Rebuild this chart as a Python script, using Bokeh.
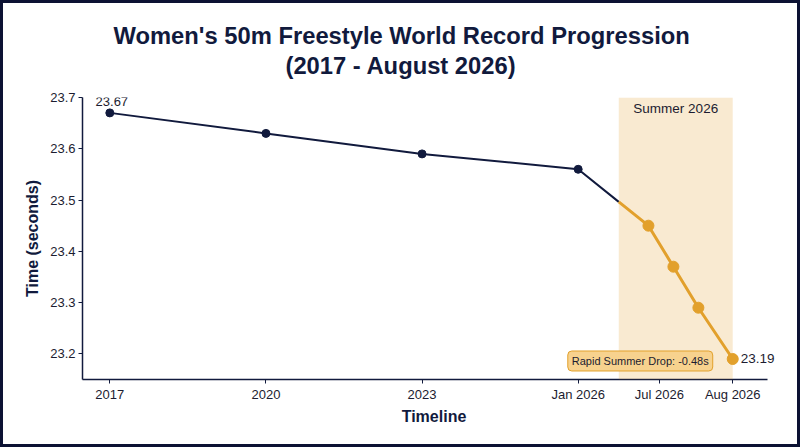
from bokeh.plotting import figure
from bokeh.models import ColumnDataSource, BoxAnnotation, Label, FixedTicker, Range1d, NumeralTickFormatter, Title
from bokeh.embed import file_html
from bokeh.resources import INLINE
import numpy as np

# timeline position (2017 = 0, 2020 = 1, 2023 = 2, Jan 2026 = 3, Aug 2026 ~ 4)
timeline = [0, 1, 2, 3, 3.45, 3.61, 3.77, 3.99]
record = [23.67, 23.63, 23.59, 23.56, 23.45, 23.37, 23.29, 23.19]

tick_pos = [0, 1, 2, 3, 3.52, 3.99]
tick_labels = ["2017", "2020", "2023", "Jan 2026", "Jul 2026", "Aug 2026"]
y_ticks = [23.2, 23.3, 23.4, 23.5, 23.6, 23.7]

summer_start = 3.26
summer_end = 3.99

NAVY = "#111a3d"
ORANGE = "#e2a12c"
TEXT = "#1c1c30"
FONT = "Liberation Sans"

# split the line where the summer window starts
y_cut = float(np.interp(summer_start, timeline, record))
navy_src = ColumnDataSource(data=dict(x=timeline[:4] + [summer_start], y=record[:4] + [y_cut]))
navy_pts = ColumnDataSource(data=dict(x=timeline[:4], y=record[:4]))
orange_src = ColumnDataSource(data=dict(x=[summer_start] + timeline[4:], y=[y_cut] + record[4:]))
orange_pts = ColumnDataSource(data=dict(x=timeline[4:], y=record[4:]))

p = figure(width=800, height=447, output_backend="svg", toolbar_location=None,
           x_range=Range1d(-0.175, 4.328), y_range=Range1d(23.15, 23.70),
           title="Women's 50m Freestyle World Record Progression",
           x_axis_label="Timeline", y_axis_label="Time (seconds)",
           min_border_left=82, min_border_right=15, min_border_top=97, min_border_bottom=68)

p.border_fill_color = None
p.styles = {"background-color": "white", "box-shadow": "inset 0 0 0 3px #0c1233"}

# two title lines, centred on the page rather than on the frame
p.title.align = "left"
p.title.offset = 31
p.title.text_font = FONT
p.title.text_font_size = "23.75px"
p.title.text_font_style = "bold"
p.title.text_color = NAVY
p.title.standoff = 0
# first panel added sits nearest the frame: gap, then the second title line
spacer = Title(text=" ", text_font_size="1px", standoff=15)
p.add_layout(spacer, "above")
subtitle = Title(text="(2017 - August 2026)", align="left", offset=203,
                 text_font=FONT, text_font_size="23.75px", text_font_style="bold",
                 text_color=NAVY, standoff=2)
p.add_layout(subtitle, "above")

p.outline_line_color = None
p.xgrid.visible = False
p.ygrid.visible = False

summer = BoxAnnotation(left=summer_start, right=summer_end, fill_color=ORANGE, fill_alpha=0.22, line_color=None)
p.add_layout(summer)

p.line("x", "y", source=navy_src, line_color=NAVY, line_width=2)
p.scatter("x", "y", source=navy_pts, size=8, color=NAVY)
p.line("x", "y", source=orange_src, line_color=ORANGE, line_width=3)
p.scatter("x", "y", source=orange_pts, size=11, color=ORANGE)

p.xaxis.ticker = FixedTicker(ticks=tick_pos)
p.xaxis.major_label_overrides = dict(zip(tick_pos, tick_labels))
p.xaxis.bounds = (-0.175, 4.213)
p.yaxis.ticker = FixedTicker(ticks=y_ticks)
p.yaxis.formatter = NumeralTickFormatter(format="0.0")

for ax in [p.xaxis[0], p.yaxis[0]]:
    ax.axis_line_color = NAVY
    ax.axis_line_width = 1.5
    ax.major_tick_line_color = NAVY
    ax.major_tick_in = 0
    ax.major_tick_out = 4
    ax.minor_tick_line_color = None
    ax.major_label_text_font = FONT
    ax.major_label_text_font_size = "13px"
    ax.major_label_text_color = TEXT
    ax.major_label_standoff = 3
    ax.axis_label_text_font = FONT
    ax.axis_label_text_font_size = "16px"
    ax.axis_label_text_font_style = "bold"
    ax.axis_label_text_color = NAVY
    ax.axis_label_standoff = 6
p.xaxis.axis_label_standoff = 3

p.add_layout(Label(x=timeline[0], y=record[0], text="%.2f" % record[0], text_align="center",
                   text_baseline="bottom", x_offset=2, y_offset=7, text_font=FONT,
                   text_font_size="13px", text_color=TEXT))
p.add_layout(Label(x=timeline[-1], y=record[-1], text="%.2f" % record[-1], text_align="left",
                   text_baseline="middle", x_offset=8, text_font=FONT,
                   text_font_size="13.5px", text_color=TEXT))
p.add_layout(Label(x=(summer_start + summer_end) / 2, y=23.70, text="Summer 2026", text_align="center",
                   text_baseline="top", y_offset=-3, text_font=FONT,
                   text_font_size="13.5px", text_color=TEXT))
drop = record[-1] - record[0]
p.add_layout(Label(x=timeline[-1], y=record[-1], text="Rapid Summer Drop: %.2fs" % drop,
                   text_align="right", text_baseline="middle", x_offset=-20, y_offset=-2,
                   text_font=FONT, text_font_size="11px", text_color=TEXT,
                   background_fill_color="#f7d28e", border_line_color=ORANGE,
                   border_line_width=1, padding=4, border_radius=4))

open("out.html", "w").write(file_html(p, INLINE))
